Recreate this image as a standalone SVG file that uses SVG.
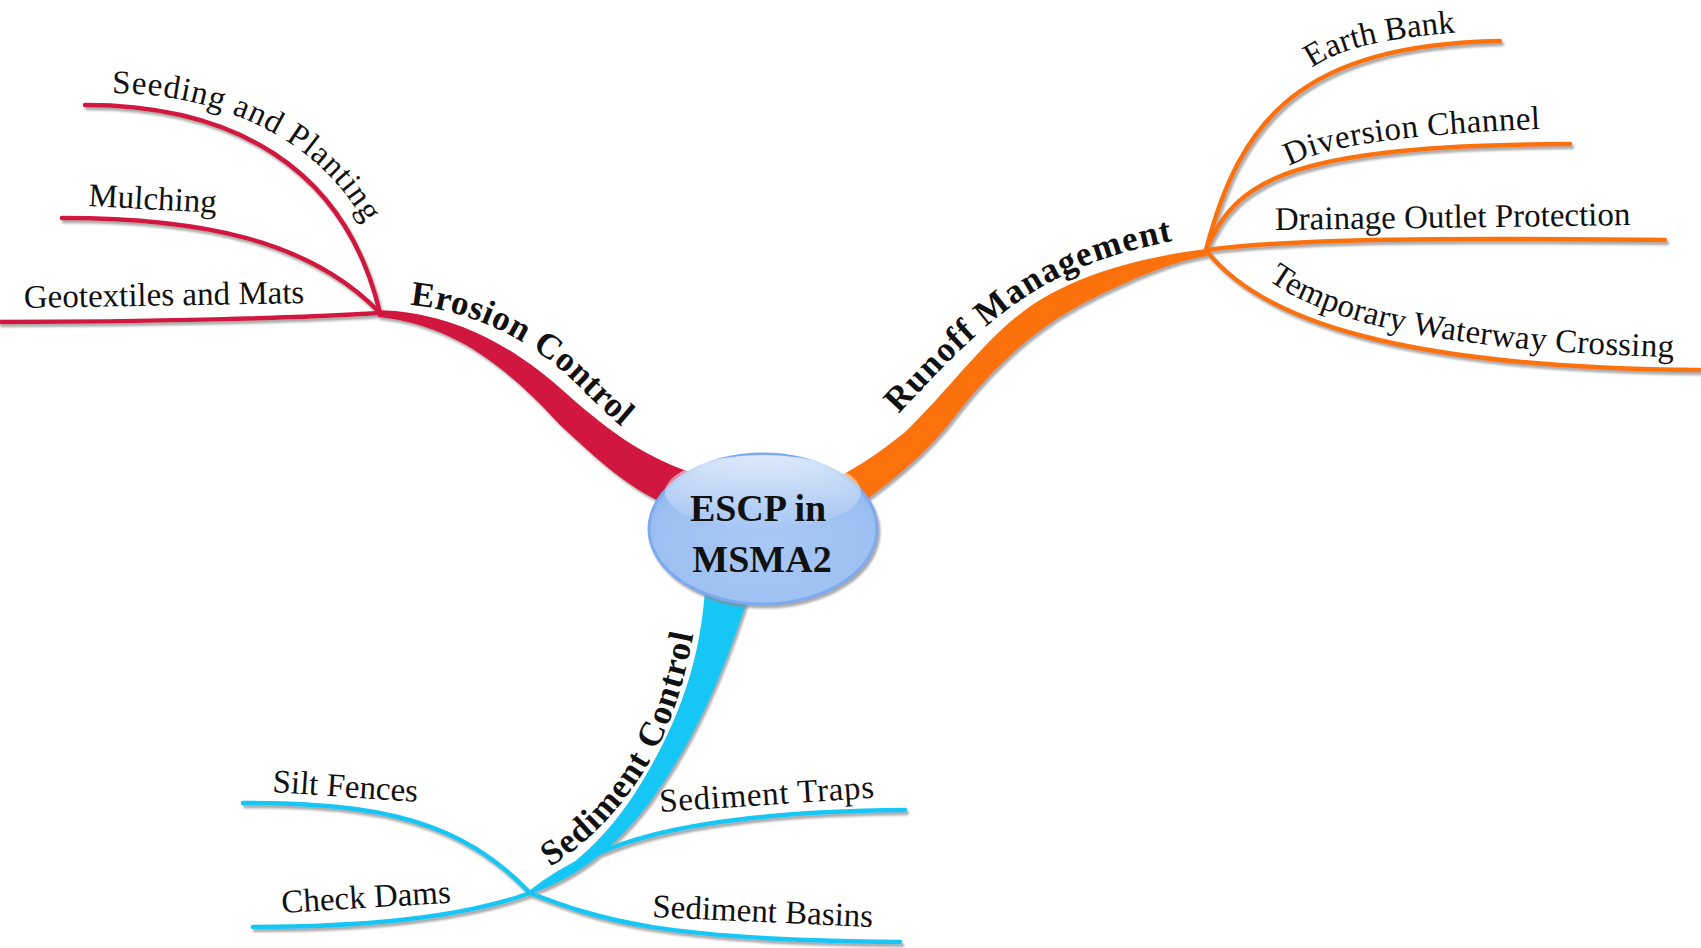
<svg xmlns="http://www.w3.org/2000/svg" width="1701" height="948" viewBox="0 0 1701 948">
<style>
.sub{fill:none;stroke-width:4.5;stroke-linecap:round}
.red{stroke:#d1133f}
.org{stroke:#fb7210}
.cyn{stroke:#12c6f5}
.lbl{font-family:"Liberation Serif","Times New Roman",serif;font-size:33px;fill:#111}
.main{font-weight:bold;font-size:35px}
.ctr{font-family:"Liberation Serif","Times New Roman",serif;font-weight:bold;font-size:38px;fill:#111;text-anchor:middle}
</style>
<defs>
<filter id="sh" x="-5%" y="-5%" width="110%" height="110%">
<feDropShadow dx="2" dy="3" stdDeviation="1.2" flood-color="#888" flood-opacity="0.7"/>
</filter>
<radialGradient id="eg" cx="0.5" cy="0.6" r="0.6">
<stop offset="0" stop-color="#a9c9f5"/>
<stop offset="0.8" stop-color="#9dc0f2"/>
<stop offset="1" stop-color="#8cb4ee"/>
</radialGradient>
<linearGradient id="hl" x1="0" y1="0" x2="0" y2="1">
<stop offset="0" stop-color="#ffffff" stop-opacity="0.7"/>
<stop offset="1" stop-color="#ffffff" stop-opacity="0"/>
</linearGradient>
<path id="tp-erosion" d="M 410 305 C 470 310 530 340 570 378 S 620 430 660 452"/>
<path id="tp-runoff" d="M 893 420 C 940 370 985 320 1040 288 C 1085 262 1130 248 1200 236"/>
<path id="tp-sediment" d="M 550 867 C 610 830 650 770 670 720 C 682 690 690 655 700 600"/>
<path id="tp-seeding" d="M 112 93 C 230 93 345 150 380 260"/>
<path id="tp-earth" d="M 1312 68 C 1342 46 1395 36 1490 30"/>
<path id="tp-diversion" d="M 1289 166 C 1325 148 1380 135 1560 128"/>
<path id="tp-temporary" d="M 1268 280 C 1330 325 1450 352 1700 358"/>
</defs>
<rect width="1701" height="948" fill="#ffffff"/>
<g id="connectors" filter="url(#sh)">
<path fill="#d1133f" d="M 378 310 C 440 312 500 335 560 388 C 605 428 640 455 690 472 L 672 507 C 630 490 600 462 560 425 C 500 360 450 325 378 317 Z"/>
<path fill="#fb7210" d="M 1207 249 C 1150 256 1090 270 1040 300 C 990 330 950 390 905 432 C 880 452 860 466 836 478 L 862 503 C 900 475 930 450 960 410 C 1000 360 1040 325 1090 300 C 1130 280 1170 262 1207 256 Z"/>
<path fill="#12c6f5" d="M 705 590 C 700 660 680 720 640 785 C 610 835 570 870 527 895 C 575 880 620 845 655 795 C 690 745 718 690 748 598 Z"/>
<path class="sub red" d="M 85 105 C 230 105 345 165 380 313"/>
<path class="sub red" d="M 62 218 C 200 218 310 240 380 313"/>
<path class="sub red" d="M 0 322 C 150 322 300 318 380 313"/>
<path class="sub org" d="M 1206 250 C 1240 120 1300 45 1500 41"/>
<path class="sub org" d="M 1206 250 C 1235 180 1290 145 1570 144"/>
<path class="sub org" d="M 1206 250 C 1300 238 1450 238 1665 240"/>
<path class="sub org" d="M 1206 250 C 1260 320 1400 368 1700 370"/>
<path class="sub cyn" d="M 243 803 C 380 803 460 820 530 893"/>
<path class="sub cyn" d="M 253 927 C 380 927 470 915 530 893"/>
<path class="sub cyn" d="M 530 893 C 590 845 680 812 905 810"/>
<path class="sub cyn" d="M 530 893 C 600 920 660 940 900 942"/>
</g>
<g id="escp-center">
<ellipse cx="763" cy="529" rx="114" ry="75" fill="url(#eg)" stroke="#7eaaf0" stroke-width="3" filter="url(#sh)"/>
<ellipse cx="763" cy="492" rx="98" ry="37" fill="url(#hl)"/>
<text class="ctr" x="758" y="521">ESCP in</text>
<text class="ctr" x="762" y="572">MSMA2</text>
</g>
<g id="erosion-control">
<text class="lbl main"><textPath href="#tp-erosion" textLength="250" lengthAdjust="spacing">Erosion Control</textPath></text>
</g>
<g id="runoff-management">
<text class="lbl main"><textPath href="#tp-runoff" startOffset="8" textLength="332" lengthAdjust="spacing">Runoff Management</textPath></text>
</g>
<g id="sediment-control">
<text class="lbl main"><textPath href="#tp-sediment" textLength="282" lengthAdjust="spacing">Sediment Control</textPath></text>
</g>
<g id="seeding-and-planting">
<text class="lbl"><textPath href="#tp-seeding" textLength="298" lengthAdjust="spacing">Seeding and Planting</textPath></text>
</g>
<g id="mulching">
<text class="lbl" x="88" y="206" transform="rotate(3 88 206)">Mulching</text>
</g>
<g id="geotextiles-and-mats">
<text class="lbl" x="24" y="308" transform="rotate(-1 24 308)">Geotextiles and Mats</text>
</g>
<g id="earth-bank">
<text class="lbl"><textPath href="#tp-earth">Earth Bank</textPath></text>
</g>
<g id="diversion-channel">
<text class="lbl"><textPath href="#tp-diversion" textLength="256" lengthAdjust="spacing">Diversion Channel</textPath></text>
</g>
<g id="drainage-outlet-protection">
<text class="lbl" x="1275" y="230" transform="rotate(-0.8 1275 230)">Drainage Outlet Protection</text>
</g>
<g id="temporary-waterway-crossing">
<text class="lbl"><textPath href="#tp-temporary" textLength="418" lengthAdjust="spacing">Temporary Waterway Crossing</textPath></text>
</g>
<g id="silt-fences">
<text class="lbl" x="272" y="792" transform="rotate(3.9 272 792)">Silt Fences</text>
</g>
<g id="check-dams">
<text class="lbl" x="282" y="913" transform="rotate(-3.5 282 913)">Check Dams</text>
</g>
<g id="sediment-traps">
<text class="lbl" x="660" y="812" transform="rotate(-3.8 660 812)" textLength="215" lengthAdjust="spacing">Sediment Traps</text>
</g>
<g id="sediment-basins">
<text class="lbl" x="652" y="917" transform="rotate(2.6 652 917)">Sediment Basins</text>
</g>
</svg>
